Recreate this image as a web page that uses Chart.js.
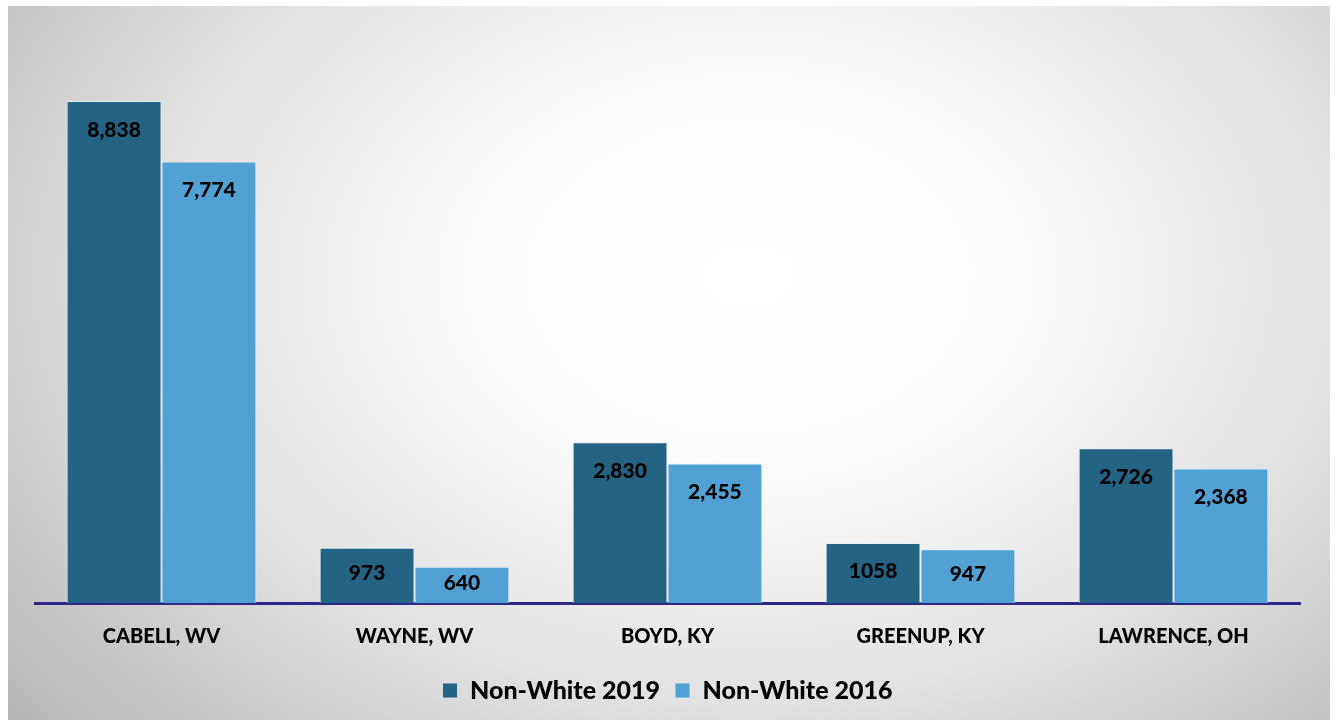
<!DOCTYPE html>
<html>
<head>
<meta charset="utf-8">
<script src="https://cdn.jsdelivr.net/npm/chart.js@4"></script>
<style>
  html, body { margin: 0; padding: 0; background: #fff; }
  #panel {
    position: absolute; left: 8px; top: 6px; width: 1322px; height: 714px;
    background: radial-gradient(ellipse 72% 95% at 56% 38%, #ffffff 0%, #fcfcfc 28%, #e2e2e2 62%, #b8b8b8 100%);
  }
  #bar-chart { position: absolute; left: 0; top: 0; }
</style>
</head>
<body>
<div id="panel"></div>
<canvas id="bar-chart" width="1335" height="725"></canvas>
<script>
  const counties = ['CABELL, WV', 'WAYNE, WV', 'BOYD, KY', 'GREENUP, KY', 'LAWRENCE, OH'];
  const nonWhite2019 = [8838, 973, 2830, 1058, 2726];
  const nonWhite2016 = [7774, 640, 2455, 947, 2368];
  const valueLabels2019 = ['8,838', '973', '2,830', '1058', '2,726'];
  const valueLabels2016 = ['7,774', '640', '2,455', '947', '2,368'];

  const FONT = 'Lato, "Open Sans", sans-serif';

  // value labels near top of each bar
  const barLabels = {
    id: 'barLabels',
    afterDatasetsDraw(chart) {
      const ctx = chart.ctx;
      const texts = [valueLabels2019, valueLabels2016];
      ctx.save();
      ctx.fillStyle = '#000';
      ctx.font = '900 21px ' + FONT;
      ctx.textAlign = 'center';
      ctx.textBaseline = 'middle';
      chart.data.datasets.forEach((ds, i) => {
        chart.getDatasetMeta(i).data.forEach((bar, j) => {
          const y = Math.min(bar.y + 29, (bar.y + bar.base) / 2 - 2);
          ctx.fillText(texts[i][j], bar.x, y);
        });
      });
      ctx.restore();
    },
  };

  const barChartBox = document.getElementById('bar-chart');

  if (barChartBox) {
    new Chart(barChartBox.getContext('2d'), {
      type: 'bar',
      data: {
        labels: counties,
        datasets: [{
          label           : 'Non-White 2019',
          backgroundColor : '#246383',
          borderColor     : 'rgba(230, 240, 248, 0.8)',
          borderWidth     : 1,
          data            : nonWhite2019,
        }, {
          label           : 'Non-White 2016',
          backgroundColor : '#51a1d5',
          borderColor     : 'rgba(230, 240, 248, 0.8)',
          borderWidth     : 1,
          data            : nonWhite2016,
        }],
      },
      options: {
        responsive: false,
        animation: false,
        layout: { padding: { left: 35, right: 35, top: 35, bottom: 12 } },
        datasets: { bar: { categoryPercentage: 0.75, barPercentage: 1.0 } },
        scales: {
          x: {
            grid: { display: false },
            border: { color: '#2d2785', width: 3 },
            ticks: { color: '#000', padding: 14, font: { family: FONT, size: 20, weight: '900' } },
          },
          y: { display: false, min: 0, max: 10000 },
        },
        plugins: {
          tooltip: { enabled: false },
          legend: {
            position: 'bottom',
            labels: {
              color: '#000',
              boxWidth: 15,
              boxHeight: 15,
              padding: 15,
              font: { family: FONT, size: 25, weight: '900' },
            },
          },
        },
      },
      plugins: [barLabels],
    });
  }
</script>
</body>
</html>
